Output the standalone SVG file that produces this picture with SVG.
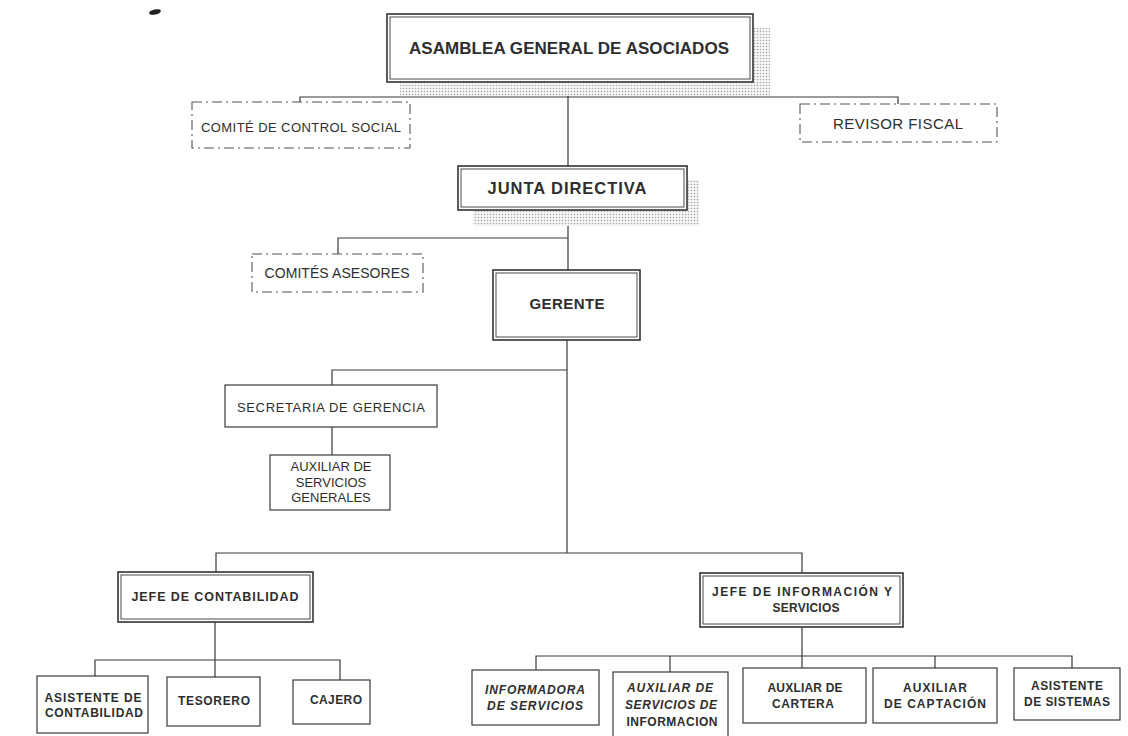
<svg xmlns="http://www.w3.org/2000/svg" width="1128" height="736" viewBox="0 0 1128 736">
  <defs>
    <pattern id="stipple" width="3" height="3" patternUnits="userSpaceOnUse">
      <rect width="3" height="3" fill="#f6f6f6"/>
      <circle cx="1.5" cy="1.5" r="0.8" fill="#a8a8a8"/>
    </pattern>
    <style>
      .box { fill: #ffffff; stroke: #3a3a3a; stroke-width: 1.2; }
      .inner { fill: none; stroke: #4a4a4a; stroke-width: 1; }
      .outer { fill: #ffffff; stroke: #333333; stroke-width: 1.6; }
      .dash { fill: #ffffff; stroke: #555555; stroke-width: 1.1; stroke-dasharray: 10 4 2 4; }
      .shadow { fill: url(#stipple); }
      .line { fill: none; stroke: #3a3a3a; stroke-width: 1.2; }
      text { font-family: "Liberation Sans", Arial, sans-serif; fill: #2e2e2e; text-anchor: middle; }
      .t-big { font-size: 17px; font-weight: bold; }
      .t-head { font-size: 15px; font-weight: bold; }
      .t-reg { font-size: 13px; }
      .t-bold { font-size: 12px; font-weight: bold; }
      .t-ital { font-size: 12px; font-weight: bold; font-style: italic; }
    </style>
  </defs>

  <rect width="1128" height="736" fill="#ffffff"/>

  <!-- ink mark in the upper left corner -->
  <ellipse cx="155" cy="12" rx="6" ry="2.6" fill="#222222" transform="rotate(-12 155 12)"/>

  <!-- connectors -->
  <g id="connectors">
    <path class="line" d="M568 82 V166"/>
    <path class="line" d="M300 102 V97 H898 V104"/>
    <path class="line" d="M568 210 V270"/>
    <path class="line" d="M338 254 V238 H568"/>
    <path class="line" d="M567 340 V553"/>
    <path class="line" d="M332 385 V370 H567"/>
    <path class="line" d="M332 427 V455"/>
    <path class="line" d="M216 572 V553 H802 V573"/>
    <path class="line" d="M215 622 V677"/>
    <path class="line" d="M95 676 V660 H340 V680"/>
    <path class="line" d="M802 627 V668"/>
    <path class="line" d="M536 670 V656 H1072 V668"/>
    <path class="line" d="M670 656 V672"/>
    <path class="line" d="M935 656 V668"/>
  </g>

  <g id="asamblea">
    <rect class="shadow" x="400" y="28" width="370" height="68"/>
    <rect class="outer" x="387" y="14" width="366" height="68"/>
    <rect class="inner" x="390" y="17" width="360" height="62"/>
    <text class="t-big" x="569" y="54" textLength="320">ASAMBLEA GENERAL DE ASOCIADOS</text>
  </g>

  <g id="comite-control">
    <rect class="dash" x="192" y="102" width="218" height="46"/>
    <text class="t-reg" x="301" y="132" textLength="200">COMITÉ DE CONTROL SOCIAL</text>
  </g>

  <g id="revisor">
    <rect class="dash" x="800" y="104" width="197" height="38"/>
    <text class="t-reg" x="898" y="129" style="font-size:15px" textLength="130">REVISOR FISCAL</text>
  </g>

  <g id="junta">
    <rect class="shadow" x="473" y="180" width="226" height="46"/>
    <rect class="outer" x="458" y="166" width="229" height="44"/>
    <rect class="inner" x="461" y="169" width="223" height="38"/>
    <text class="t-head" x="567" y="194" style="font-size:16.5px" textLength="159">JUNTA DIRECTIVA</text>
  </g>

  <g id="comites-asesores">
    <rect class="dash" x="252" y="254" width="171" height="38"/>
    <text class="t-reg" x="337" y="278" style="font-size:14px" textLength="145">COMITÉS ASESORES</text>
  </g>

  <g id="gerente">
    <rect class="outer" x="493" y="270" width="147" height="70"/>
    <rect class="inner" x="496" y="273" width="141" height="64"/>
    <text class="t-head" x="567" y="309" textLength="75">GERENTE</text>
  </g>

  <g id="secretaria">
    <rect class="box" x="225" y="385" width="212" height="42"/>
    <text class="t-reg" x="331" y="412" textLength="188">SECRETARIA DE GERENCIA</text>
  </g>

  <g id="aux-servicios-generales">
    <rect class="box" x="270" y="455" width="120" height="55"/>
    <text class="t-reg" x="331" y="471">AUXILIAR DE</text>
    <text class="t-reg" x="331" y="487">SERVICIOS</text>
    <text class="t-reg" x="331" y="502">GENERALES</text>
  </g>

  <g id="jefe-contabilidad">
    <rect class="outer" x="118" y="572" width="195" height="50"/>
    <rect class="inner" x="121" y="575" width="189" height="44"/>
    <text class="t-head" x="215" y="601" style="font-size:12.5px" textLength="167">JEFE DE CONTABILIDAD</text>
  </g>

  <g id="asistente-contabilidad">
    <rect class="box" x="37" y="676" width="111" height="57"/>
    <text class="t-bold" x="93" y="702" textLength="97">ASISTENTE DE</text>
    <text class="t-bold" x="94" y="717" textLength="98">CONTABILIDAD</text>
  </g>

  <g id="tesorero">
    <rect class="box" x="167" y="677" width="93" height="49"/>
    <text class="t-bold" x="214" y="705" textLength="72">TESORERO</text>
  </g>

  <g id="cajero">
    <rect class="box" x="293" y="680" width="77" height="44"/>
    <text class="t-bold" x="336" y="704" textLength="52">CAJERO</text>
  </g>

  <g id="jefe-informacion">
    <rect class="outer" x="700" y="573" width="203" height="54"/>
    <rect class="inner" x="703" y="576" width="197" height="48"/>
    <text class="t-bold" x="802" y="596" textLength="180">JEFE DE INFORMACIÓN Y</text>
    <text class="t-bold" x="806" y="612" textLength="67">SERVICIOS</text>
  </g>

  <g id="informadora">
    <rect class="box" x="472" y="670" width="127" height="55"/>
    <text class="t-ital" x="535" y="694" textLength="100">INFORMADORA</text>
    <text class="t-ital" x="535" y="710" textLength="96">DE SERVICIOS</text>
  </g>

  <g id="aux-servicios-informacion">
    <rect class="box" x="613" y="672" width="115" height="70"/>
    <text class="t-ital" x="670" y="692" textLength="86">AUXILIAR DE</text>
    <text class="t-ital" x="671" y="709" textLength="92">SERVICIOS DE</text>
    <text class="t-bold" x="672" y="726" textLength="91">INFORMACION</text>
  </g>

  <g id="aux-cartera">
    <rect class="box" x="743" y="668" width="123" height="55"/>
    <text class="t-bold" x="805" y="692" textLength="75">AUXLIAR DE</text>
    <text class="t-bold" x="803" y="708" textLength="62">CARTERA</text>
  </g>

  <g id="aux-captacion">
    <rect class="box" x="873" y="668" width="124" height="55"/>
    <text class="t-bold" x="935" y="692" textLength="64">AUXILIAR</text>
    <text class="t-bold" x="935" y="708" textLength="102">DE CAPTACIÓN</text>
  </g>

  <g id="asistente-sistemas">
    <rect class="box" x="1014" y="668" width="106" height="52"/>
    <text class="t-bold" x="1067" y="690" textLength="72">ASISTENTE</text>
    <text class="t-bold" x="1067" y="706" textLength="86">DE SISTEMAS</text>
  </g>
</svg>
